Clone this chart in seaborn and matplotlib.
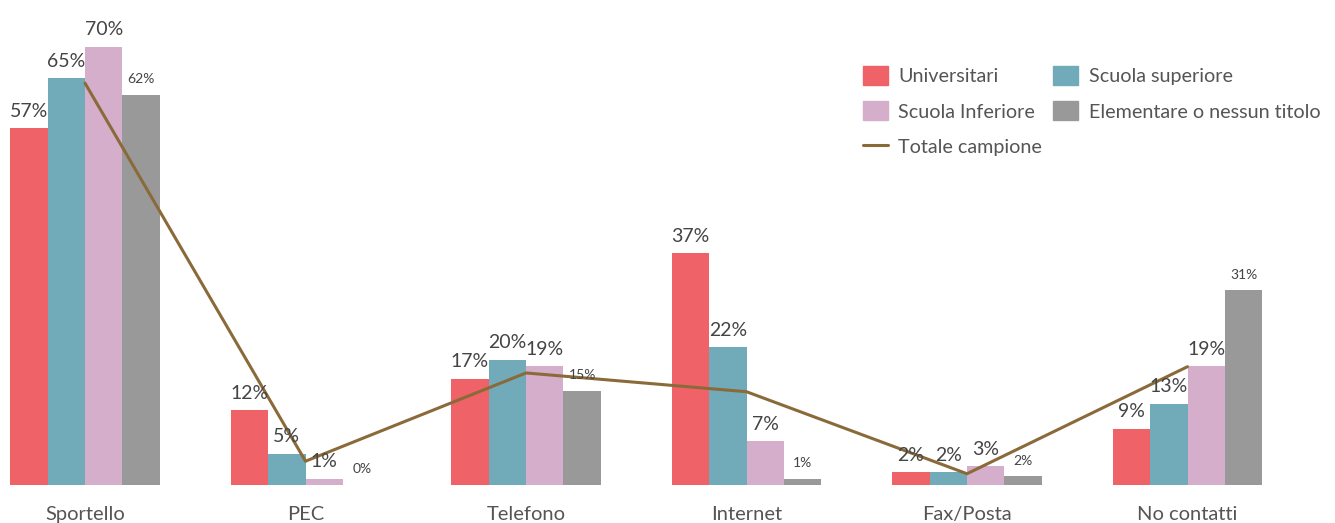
import numpy as np
import pandas as pd
import matplotlib
matplotlib.use("Agg")
import matplotlib.pyplot as plt
import seaborn as sns
from matplotlib.patches import Patch
from matplotlib.lines import Line2D

# data
categories = ["Sportello", "PEC", "Telefono", "Internet", "Fax/Posta", "No contatti"]
series = ["Universitari", "Scuola superiore", "Scuola Inferiore", "Elementare o nessun titolo"]
universitari = [57, 12, 17, 37, 2, 9]
superiore = [65, 5, 20, 22, 2, 13]
inferiore = [70, 1, 19, 7, 3, 19]
elementare = [62, 0, 15, 1, 2, 31]
elementare_bar = [62.3, 0, 15.0, 1.0, 1.4, 31.1]
totale = [64.2, 3.8, 17.9, 14.9, 1.8, 18.9]

colors = ["#EF6368", "#71AAB9", "#D4AECB", "#999999"]
line_color = "#8B6A3A"


def build_frame():
    values = [universitari, superiore, inferiore, elementare_bar]
    rows = []
    for s, vals in zip(series, values):
        for c, v in zip(categories, vals):
            rows.append({"categoria": c, "titolo": s, "valore": v})
    return pd.DataFrame(rows)


def plot_chart(df):
    sns.set_style("white")
    plt.rcParams["font.family"] = ["Lato", "DejaVu Sans"]

    fig = plt.figure(figsize=(13.35, 5.23), dpi=100)
    ax = fig.add_axes([0, 38 / 523, 1, 485 / 523])

    sns.barplot(data=df, x="categoria", y="valore", hue="titolo",
                order=categories, hue_order=series, palette=colors,
                width=0.68, gap=0, saturation=1, linewidth=0,
                legend=False, ax=ax)

    # labels above bars, gray series smaller
    shown = [universitari, superiore, inferiore, elementare]
    for i, cont in enumerate(ax.containers):
        small = i == 3
        ax.bar_label(cont, labels=[f"{v}%" for v in shown[i]],
                     padding=6 if not small else 7,
                     fontsize=10 if small else 14, color="#444444")

    # Totale campione line
    ax.plot(np.arange(len(categories)), totale, color=line_color, lw=2.2)

    ax.set_xlim(-85 / 220.5, (1335 - 85) / 220.5)
    ax.set_ylim(0, 485 / 6.26)
    ax.set_xlabel("")
    ax.set_ylabel("")
    ax.set_yticks([])
    ax.tick_params(axis="x", length=0, pad=15, labelsize=14.5, labelcolor="#555555")
    sns.despine(ax=ax, left=True, bottom=True)

    handles = [Patch(color=colors[0]), Patch(color=colors[2]),
               Line2D([0], [0], color=line_color, lw=2.2),
               Patch(color=colors[1]), Patch(color=colors[3])]
    labels = [series[0], series[2], "Totale campione", series[1], series[3]]
    ax.legend(handles, labels, ncol=2, loc="upper left",
              bbox_to_anchor=(863 / 1335, 1 - 66 / 485), frameon=False,
              fontsize=14.2, handlelength=1.25, handleheight=1.1,
              handletextpad=0.55, columnspacing=0.55, labelspacing=0.82,
              borderaxespad=0, borderpad=0, labelcolor="#555555")

    fig.savefig("out.png", dpi=100)


if __name__ == "__main__":
    df = build_frame()
    plot_chart(df)
